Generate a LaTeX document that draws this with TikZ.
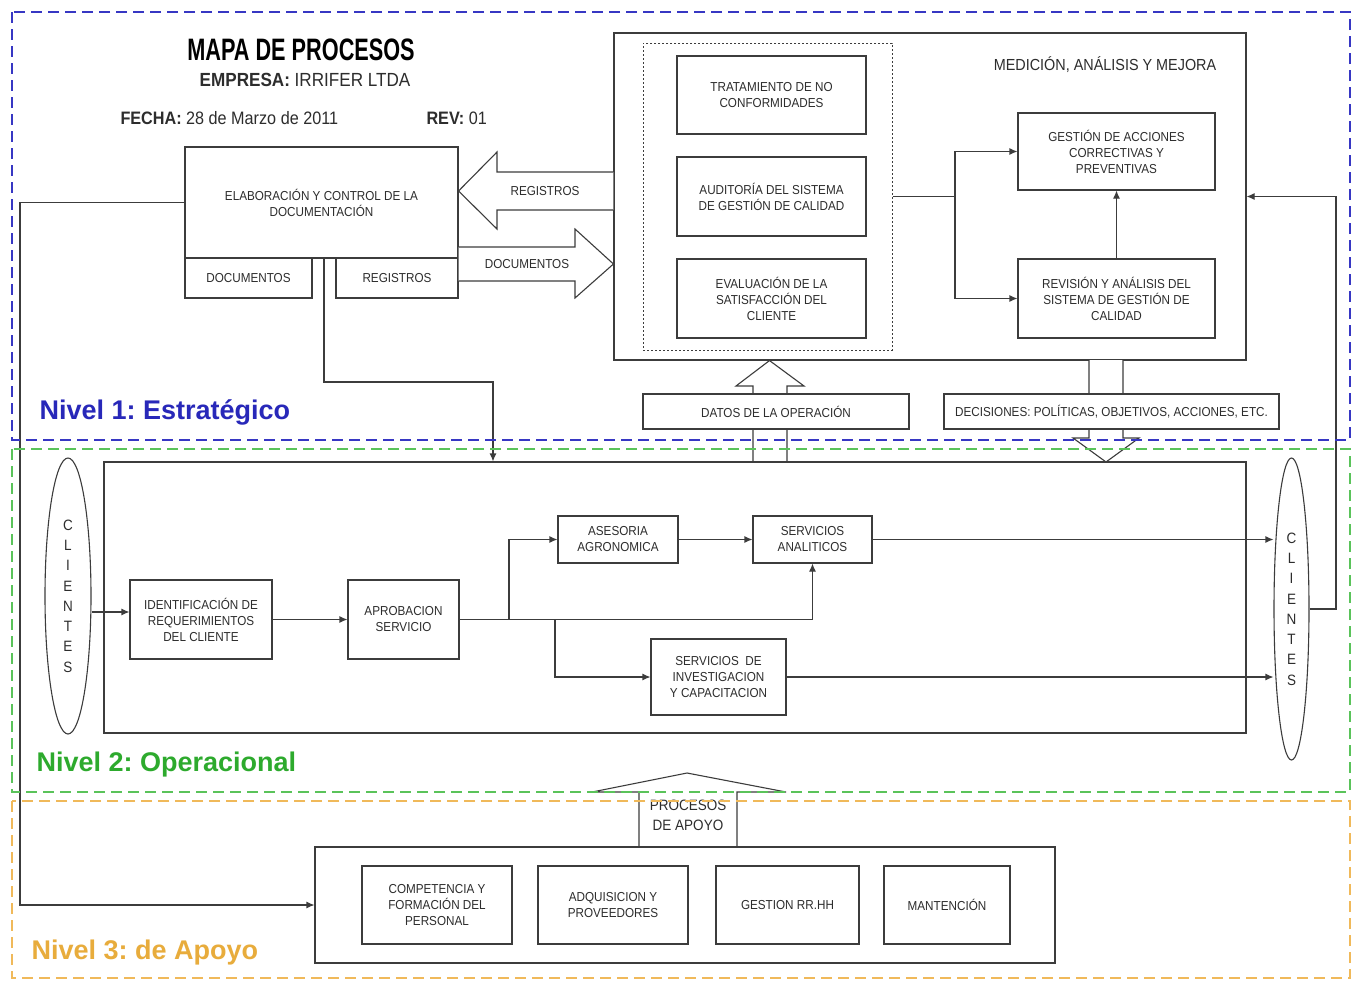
\documentclass[tikz,border=0pt]{standalone}
\usepackage{fontspec}
\setmainfont{Liberation Sans}
\newfontfamily\nf[FakeStretch=0.9]{Liberation Sans}
\newfontfamily\tf[FakeStretch=0.7]{Liberation Sans}
\usetikzlibrary{arrows.meta,shapes.geometric}
\frenchspacing
\definecolor{lc}{RGB}{60,60,60}
\definecolor{tc}{RGB}{45,45,45}
\definecolor{zblue}{RGB}{55,55,195}
\definecolor{zgreen}{RGB}{90,195,90}
\definecolor{zorange}{RGB}{240,185,90}
\definecolor{lblue}{RGB}{40,40,185}
\definecolor{lgreen}{RGB}{45,170,45}
\definecolor{lorange}{RGB}{232,172,60}
\tikzset{
  pbox/.style={draw=lc, fill=white, line width=1.1pt, inner sep=1pt, align=center, text=tc,
    font=\nf\fontsize{13}{16}\selectfont},
  conn/.style={draw=lc, line width=1.1pt, -{Latex[length=8pt,width=7pt]}},
  plain/.style={draw=lc, line width=1.1pt},
  harrow/.style={draw=lc, fill=white, line width=1.1pt, line join=miter},
  zone/.style={line width=2pt, dash pattern=on 11pt off 6pt},
  clients/.style={draw=lc, fill=white, line width=1.1pt, ellipse, inner sep=0pt, align=center, text=tc,
    font=\nf\fontsize{15}{20.3}\selectfont},
  lbl/.style={anchor=west, font=\bfseries\fontsize{27}{30}\selectfont},
}
\begin{document}
\begin{tikzpicture}[x=1pt,y=-1pt]
\useasboundingbox[fill=white] (0,0) rectangle (1354,980);

% ---------- header ----------
\node[font=\tf\bfseries\fontsize{31}{34}\selectfont] (title) at (301,50) {MAPA DE PROCESOS};
\node[font=\nf\fontsize{19}{22}\selectfont, text=tc] (emp) at (305,80) {\textbf{EMPRESA:} IRRIFER LTDA};
\node[font=\nf\fontsize{18}{21}\selectfont, text=tc, anchor=west] (fecha) at (117,118) {\textbf{FECHA:} 28 de Marzo de 2011};
\node[font=\nf\fontsize{18}{21}\selectfont, text=tc, anchor=west] (rev) at (423,118) {\textbf{REV:} 01};

% ---------- level 1 ----------
\node[pbox, minimum width=273, minimum height=111] (elab) at (321.5,202.5) {ELABORACIÓN Y CONTROL DE LA\\DOCUMENTACIÓN};
\node[pbox, minimum width=127, minimum height=40] (docb) at (248.5,278) {DOCUMENTOS};
\node[pbox, minimum width=122, minimum height=40] (regb) at (397,278) {REGISTROS};

\node[draw=lc, fill=white, line width=1.1pt, minimum width=632, minimum height=327] (med) at (930,196.5) {};
\node[font=\nf\fontsize{16}{19}\selectfont, text=tc] (medl) at (1105,65) {MEDICIÓN, ANÁLISIS Y MEJORA};
\node[draw=lc, line width=1pt, dash pattern=on 2pt off 2pt, minimum width=249, minimum height=307] (dot) at (767.5,196.5) {};
\node[pbox, minimum width=189, minimum height=78] (trat) at (771.5,95) {TRATAMIENTO DE NO\\CONFORMIDADES};
\node[pbox, minimum width=189, minimum height=79] (aud) at (771.5,196.5) {AUDITORÍA DEL SISTEMA\\DE GESTIÓN DE CALIDAD};
\node[pbox, minimum width=189, minimum height=79] (eva) at (771.5,298.5) {EVALUACIÓN DE LA\\SATISFACCIÓN DEL\\CLIENTE};
\node[pbox, minimum width=197, minimum height=77] (gest) at (1116.5,151.5) {GESTIÓN DE ACCIONES\\CORRECTIVAS Y\\PREVENTIVAS};
\node[pbox, minimum width=197, minimum height=79] (rev2) at (1116.5,298.5) {REVISIÓN Y ANÁLISIS DEL\\SISTEMA DE GESTIÓN DE\\CALIDAD};

\coordinate (j1) at (955,196.5);
\draw[plain] (dot.east) -- (j1);
\draw[conn] (j1) |- (gest.west);
\draw[conn] (j1) |- (rev2.west);
\draw[conn] (rev2.north) -- (gest.south);

% hollow arrows between documentation and measurement
\draw[harrow] (med.west |- 0,172) -- (497,172) -- (497,152) -- (elab.east |- 0,191) -- (497,229) -- (497,210) -- (med.west |- 0,210);
\node[font=\nf\fontsize{13}{16}\selectfont, text=tc] (regl) at (545,191) {REGISTROS};
\draw[harrow] (elab.east |- 0,247) -- (575,247) -- (575,229) -- (med.west |- 0,264) -- (575,298) -- (575,281) -- (regb.east |- 0,281);
\node[font=\nf\fontsize{13}{16}\selectfont, text=tc] (docl) at (527,264) {DOCUMENTOS};

% datos / decisiones arrows
\draw[harrow] (753,462) -- (753,386) -- (736,386) -- (med.south -| 769.5,0) -- (804,386) -- (787,386) -- (787,462);
\node[pbox, minimum width=266, minimum height=35] (datos) at (776,411.5) {DATOS DE LA OPERACIÓN};
\draw[harrow] (1089,360) -- (1089,438) -- (1073,438) -- (1106,462) -- (1139,438) -- (1123,438) -- (1123,360);
\node[pbox, minimum width=335, minimum height=35] (dec) at (1111.5,411.5) {DECISIONES: POLÍTICAS, OBJETIVOS, ACCIONES, ETC.};

% ---------- level 2 ----------
\node[draw=lc, line width=1.1pt, minimum width=1142, minimum height=271] (ops) at (675,597.5) {};
\node[clients, minimum width=46, minimum height=276] (cl) at (68,596) {C\\L\\I\\E\\N\\T\\E\\S};
\node[clients, minimum width=35, minimum height=302] (cr) at (1291.5,609) {C\\L\\I\\E\\N\\T\\E\\S};

\node[pbox, minimum width=142, minimum height=79] (ident) at (201,619.5) {IDENTIFICACIÓN DE\\REQUERIMIENTOS\\DEL CLIENTE};
\node[pbox, minimum width=111, minimum height=79] (aprob) at (403.5,619.5) {APROBACION\\SERVICIO};
\node[pbox, minimum width=120, minimum height=47] (ases) at (618,539.5) {ASESORIA\\AGRONOMICA};
\node[pbox, minimum width=119, minimum height=47] (anal) at (812.5,539.5) {SERVICIOS\\ANALITICOS};
\node[pbox, minimum width=135, minimum height=76] (inv) at (718.5,677) {SERVICIOS\ \ DE\\INVESTIGACION\\Y CAPACITACION};

\coordinate (b1) at (509,619.5);
\coordinate (b2) at (555,619.5);
\draw[conn] (cl.east |- 0,612) -- (ident.west |- 0,612);
\draw[conn] (ident) -- (aprob);
\draw[conn] (aprob.east) -| (anal.south);
\draw[conn] (b1) |- (ases.west);
\draw[conn] (b2) |- (inv.west);
\draw[conn] (ases) -- (anal);
\draw[conn] (anal.east) -- (cr.west |- anal.east);
\draw[conn] (inv.east) -- (cr.west |- inv.east);

% feedback from clients to measurement
\coordinate (fb) at (1336,609);
\draw[conn] (cr.east) -- (fb) |- (med.east);

% documentation to operations
\coordinate (d1) at (324,258);
\coordinate (d2) at (493,382);
\draw[conn] (d1) |- (d2) -- (ops.north -| d2);

% ---------- level 3 ----------
\draw[harrow] (639,847) -- (639,792) -- (592,792) -- (687,773) -- (786,792) -- (737,792) -- (737,847);
\node[font=\nf\fontsize{15}{20}\selectfont, text=tc, align=center] (apl) at (688,815) {PROCESOS\\DE APOYO};
\node[draw=lc, fill=white, line width=1.1pt, minimum width=740, minimum height=116] (apoyo) at (685,905) {};
\node[pbox, minimum width=150, minimum height=78] (comp) at (437,905) {COMPETENCIA Y\\FORMACIÓN DEL\\PERSONAL};
\node[pbox, minimum width=150, minimum height=78] (adq) at (613,905) {ADQUISICION Y\\PROVEEDORES};
\node[pbox, minimum width=143, minimum height=78] (ges) at (787.5,905) {GESTION RR.HH};
\node[pbox, minimum width=126, minimum height=78] (man) at (947,905) {MANTENCIÓN};

\coordinate (lft) at (20,905);
\draw[conn] (elab.west) -| (lft) -- (apoyo.west);

% ---------- zones ----------
\draw[zone, zblue] (12,12) rectangle (1350,440);
\draw[zone, zgreen] (12,449) rectangle (1350,792);
\draw[zone, zorange] (12,801) rectangle (1350,978);
\node[lbl, text=lblue] (n1) at (36,412) {Nivel 1: Estratégico};
\node[lbl, text=lgreen] (n2) at (33,765) {Nivel 2: Operacional};
\node[lbl, text=lorange] (n3) at (28,953) {Nivel 3: de Apoyo};
\end{tikzpicture}
\end{document}
